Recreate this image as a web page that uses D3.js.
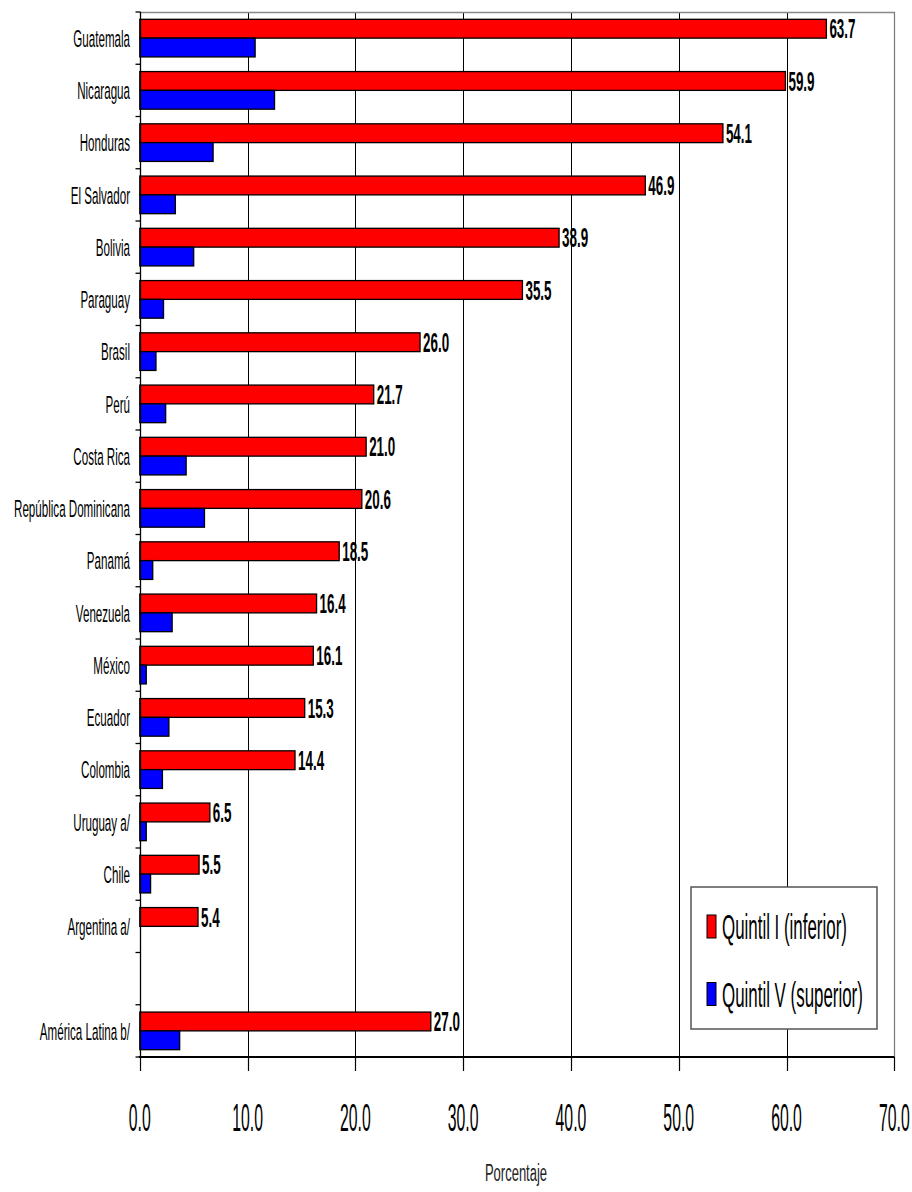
<!DOCTYPE html>
<html><head><meta charset="utf-8">
<script src="https://cdn.jsdelivr.net/npm/d3@7"></script>
<style>body{margin:0;background:#fff}svg{display:block}</style>
</head><body><svg id="c" width="912" height="1192"></svg>
<script>
const categories = ["Guatemala","Nicaragua","Honduras","El Salvador","Bolivia","Paraguay","Brasil","Perú","Costa Rica","República Dominicana","Panamá","Venezuela","México","Ecuador","Colombia","Uruguay a/","Chile","Argentina a/","","América Latina b/"];
const quintil1 = [63.7,59.9,54.1,46.9,38.9,35.5,26.0,21.7,21.0,20.6,18.5,16.4,16.1,15.3,14.4,6.5,5.5,5.4,null,27.0];
const quintil5 = [10.7,12.5,6.8,3.3,5.0,2.2,1.5,2.4,4.3,6.0,1.2,3.0,0.6,2.7,2.1,0.6,1.0,null,null,3.7];
const xTicks = [0,10,20,30,40,50,60,70];
const seriesNames = ["Quintil I (inferior)","Quintil V (superior)"];
const seriesColors = ["#ff0000","#0000ff"];
const xTitle = "Porcentaje";

(function(){
const FONT = "'Liberation Sans', Arial, sans-serif";
const svg = d3.select("#c");
svg.append("rect").attr("width",912).attr("height",1192).attr("fill","#fff");

const x = d3.scaleLinear().domain([0,70]).range([139.8, 894.3]);
const y = d3.scaleBand().domain(categories).range([12, 1057]).paddingInner(0.28).paddingOuter(0.14);
const sub = d3.scaleBand().domain([0,1]).range([0, y.bandwidth()]);
const series = [quintil1, quintil5];

function txt(g, tx, cy, str, o) {
  const sy = o.sy || 2.1, size = o.size;
  const base = cy + 0.716*size*sy/2;
  return g.append("text")
    .attr("transform", `translate(${tx},${base}) scale(1,${sy})`)
    .attr("font-family", FONT).attr("font-size", size)
    .attr("font-weight", o.weight || "normal")
    .attr("text-anchor", o.anchor || "start")
    .attr("fill", o.fill || "#000")
    .text(str);
}

const yTop = y.range()[0], yBot = y.range()[1];

// gridlines
svg.append("g").selectAll("line").data(xTicks.filter(t => t>0 && t<70)).join("line")
  .attr("x1", d => Math.round(x(d))+0.5).attr("x2", d => Math.round(x(d))+0.5)
  .attr("y1", yTop).attr("y2", yBot).attr("stroke","#000").attr("stroke-width",1);

// frame top/right
svg.append("line").attr("x1", x(0)).attr("x2", x(70)).attr("y1", yTop+0.5).attr("y2", yTop+0.5)
  .attr("stroke","#888").attr("stroke-width",1.5);
svg.append("line").attr("x1", Math.round(x(70))+0.5).attr("x2", Math.round(x(70))+0.5).attr("y1", yTop).attr("y2", yBot)
  .attr("stroke","#777").attr("stroke-width",1.2);

// bars
const gBars = svg.append("g");
categories.forEach((c, i) => {
  series.forEach((s, k) => {
    const v = s[i];
    if (v == null) return;
    gBars.append("rect")
      .attr("x", x(0)).attr("y", y(c) + sub(k))
      .attr("width", x(v) - x(0)).attr("height", sub.bandwidth())
      .attr("fill", seriesColors[k]).attr("stroke", "#000").attr("stroke-width", 1.3);
  });
});

// value labels
const fmt = d3.format(".1f");
categories.forEach((c, i) => {
  const v = quintil1[i];
  if (v == null) return;
  txt(svg, x(v) + 3, y(c) + sub(0) + sub.bandwidth()/2, fmt(v), {size: 13.4, sy: 2.0, weight: "bold"});
});

// y axis
const x0 = Math.round(x(0)) + 0.5;
svg.append("line").attr("x1", x0).attr("x2", x0).attr("y1", yTop).attr("y2", yBot).attr("stroke","#000").attr("stroke-width",1.3);
const step = y.step();
d3.range(categories.length + 1).forEach(k => {
  const yy = yTop + k*step;
  svg.append("line").attr("x1", x0 - 5).attr("x2", x0).attr("y1", yy).attr("y2", yy).attr("stroke","#000").attr("stroke-width",1.3);
});
categories.forEach(c => {
  if (!c) return;
  txt(svg, 130, y(c) + y.bandwidth()/2, c, {size: 11.6, sy: 2.1, anchor: "end"});
});

// x axis
svg.append("line").attr("x1", x(0)-1).attr("x2", x(70)).attr("y1", yBot).attr("y2", yBot).attr("stroke","#000").attr("stroke-width",1.8);
xTicks.forEach(t => {
  const xx = Math.round(x(t)) + 0.5;
  svg.append("line").attr("x1", xx).attr("x2", xx).attr("y1", yBot).attr("y2", yBot + 14).attr("stroke","#000").attr("stroke-width",1.2);
  txt(svg, x(t), 1117, d3.format(".1f")(t), {size: 15.8, sy: 2.4, anchor: "middle"});
});
txt(svg, 516, 1173, xTitle, {size: 13, sy: 1.78, anchor: "middle", fill: "#222"});

// legend
const lg = svg.append("g");
lg.append("rect").attr("x", 691).attr("y", 887).attr("width", 186).attr("height", 142)
  .attr("fill", "#fff").attr("stroke", "#555").attr("stroke-width", 1.5);
seriesNames.forEach((n, k) => {
  const cy = [926.5, 994][k];
  lg.append("rect").attr("x", 707).attr("y", cy - 11.5).attr("width", 9).attr("height", 23)
    .attr("fill", seriesColors[k]).attr("stroke", "#000").attr("stroke-width", 1);
  txt(lg, 722, cy, n, {size: 16.9, sy: 2.07});
});
})();
</script></body></html>
